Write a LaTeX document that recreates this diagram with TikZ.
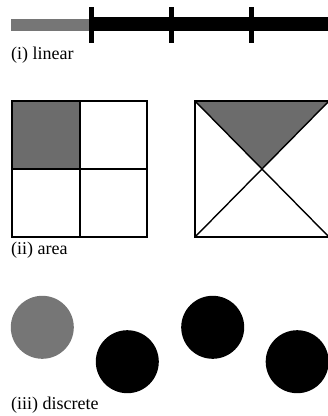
\documentclass[tikz,border=0pt]{standalone}
\usepackage{fontspec}
\setmainfont{Liberation Serif}
\definecolor{fillgray}{RGB}{118,118,118}
\definecolor{areagray}{RGB}{108,108,108}
\begin{document}
\begin{tikzpicture}[x=1pt,y=-1pt,
  caption/.style={anchor=base west,inner sep=0pt,font=\fontsize{18}{21}\selectfont},
  tickmark/.style={line width=5pt},
  frame/.style={line width=1.4pt,line join=miter},
  dot/.style={circle,minimum size=63pt,inner sep=0pt}]
\useasboundingbox (0,0) rectangle (328,416);
% (i) linear
\fill[fillgray] (11,18.5) rectangle (91,30.5);
\fill[black] (91,17.3) rectangle (330,31.3);
\foreach \x in {91,171,251} \draw[tickmark] (\x,7) -- (\x,43);
\node[caption] (lin) at (11,59.5) {(i) linear};
% (ii) area
\fill[areagray] (12,101) rectangle (80,169);
\draw[frame] (12,101) rectangle (147,237);
\draw[frame] (80,101) -- (80,237) (12,169) -- (147,169);
\fill[areagray] (195,101) -- (329,101) -- (262,169) -- cycle;
\draw[frame] (195,101) rectangle (329,237);
\draw[frame] (195,101) -- (329,237) (329,101) -- (195,237);
\node[caption] (are) at (11,254.7) {(ii) area};
% (iii) discrete
\node[dot,fill=fillgray] (c1) at (42.3,327.3) {};
\node[dot,fill=black] (c2) at (127.3,361.7) {};
\node[dot,fill=black] (c3) at (212.7,327.3) {};
\node[dot,fill=black] (c4) at (297.2,361.7) {};
\node[caption] (dis) at (11,409) {(iii) discrete};
\end{tikzpicture}
\end{document}
